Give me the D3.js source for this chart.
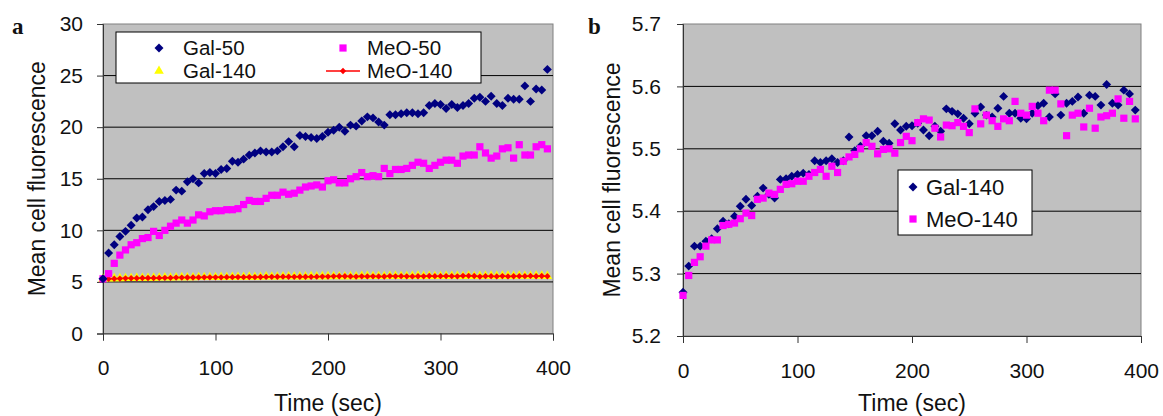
<!DOCTYPE html>
<html>
<head>
<meta charset="utf-8">
<script src="https://cdn.jsdelivr.net/npm/d3@7"></script>
<style>
  body { margin: 0; background: #fff; }
  svg text { font-family: "Liberation Sans", Arial, sans-serif; fill: #111; }
  .panel-letter { font-family: "Liberation Serif", "Times New Roman", serif; font-weight: bold; }
</style>
</head>
<body>
<div class="container"></div>
<script>
// Time points (sec), same for every series
const times = [0, 5, 10, 15, 20, 25, 30, 35, 40, 45, 50, 55, 60, 65, 70, 75, 80, 85, 90, 95,
  100, 105, 110, 115, 120, 125, 130, 135, 140, 145, 150, 155, 160, 165, 170, 175, 180, 185, 190, 195,
  200, 205, 210, 215, 220, 225, 230, 235, 240, 245, 250, 255, 260, 265, 270, 275, 280, 285, 290, 295,
  300, 305, 310, 315, 320, 325, 330, 335, 340, 345, 350, 355, 360, 365, 370, 375, 380, 385, 390, 395];

// Panel a series
const gal50 = [5.3, 7.8, 8.6, 9.4, 9.9, 10.5, 11.2, 11.3, 12.0, 12.3,
  12.8, 12.9, 13.0, 13.9, 13.8, 14.7, 15.0, 14.6, 15.5, 15.6,
  15.5, 15.9, 16.0, 16.7, 16.6, 16.9, 17.3, 17.5, 17.7, 17.6,
  17.6, 17.7, 18.1, 18.6, 18.1, 19.2, 19.1, 19.0, 18.9, 19.1,
  19.5, 19.7, 20.0, 19.6, 20.2, 20.1, 20.6, 21.0, 20.9, 20.5,
  20.2, 21.2, 21.2, 21.3, 21.4, 21.4, 21.3, 21.4, 22.1, 22.3,
  22.2, 21.8, 22.2, 21.9, 22.1, 22.3, 22.8, 22.9, 22.5, 23.0,
  22.3, 22.1, 22.8, 22.7, 22.7, 24.0, 22.5, 23.7, 23.6, 25.6];

const meo50 = [5.3, 5.8, 6.8, 7.6, 8.1, 8.6, 8.8, 9.2, 9.3, 9.9,
  9.5, 10.0, 10.4, 10.7, 11.0, 10.7, 11.0, 11.5, 11.4, 11.8,
  11.9, 11.9, 12.0, 12.0, 12.1, 12.5, 12.9, 12.8, 12.8, 13.1,
  13.4, 13.4, 13.7, 13.5, 13.6, 13.9, 14.2, 14.3, 14.4, 14.2,
  14.8, 14.9, 14.6, 14.6, 15.0, 15.2, 15.6, 15.2, 15.3, 15.2,
  16.0, 15.5, 15.9, 15.9, 16.0, 16.3, 16.6, 16.5, 16.0, 16.3,
  16.6, 16.8, 16.8, 16.5, 17.2, 17.3, 17.3, 18.1, 17.5, 17.0,
  17.2, 17.9, 18.0, 17.0, 18.3, 17.3, 17.3, 18.1, 18.3, 17.9];

// 140 series (shown in both panels)
const gal140 = [5.27, 5.312, 5.344, 5.344, 5.352, 5.356, 5.372, 5.384, 5.380, 5.392,
  5.408, 5.419, 5.409, 5.424, 5.437, 5.427, 5.421, 5.451, 5.452, 5.456,
  5.459, 5.461, 5.459, 5.481, 5.478, 5.481, 5.484, 5.478, 5.481, 5.519,
  5.497, 5.504, 5.521, 5.521, 5.528, 5.512, 5.509, 5.540, 5.530, 5.536,
  5.537, 5.541, 5.530, 5.521, 5.536, 5.528, 5.564, 5.560, 5.556, 5.549,
  5.540, 5.557, 5.567, 5.554, 5.551, 5.565, 5.584, 5.557, 5.557, 5.549,
  5.548, 5.557, 5.569, 5.573, 5.551, 5.588, 5.554, 5.573, 5.576, 5.583,
  5.557, 5.586, 5.584, 5.570, 5.603, 5.573, 5.570, 5.594, 5.588, 5.562];

const meo140 = [5.265, 5.297, 5.318, 5.327, 5.344, 5.354, 5.354, 5.377, 5.379, 5.381,
  5.388, 5.397, 5.393, 5.419, 5.421, 5.429, 5.427, 5.435, 5.443, 5.444,
  5.448, 5.448, 5.456, 5.462, 5.467, 5.456, 5.472, 5.462, 5.480, 5.487,
  5.491, 5.500, 5.510, 5.504, 5.492, 5.499, 5.500, 5.493, 5.510, 5.520,
  5.513, 5.542, 5.548, 5.546, 5.533, 5.519, 5.538, 5.537, 5.542, 5.536,
  5.526, 5.564, 5.540, 5.554, 5.545, 5.536, 5.548, 5.545, 5.576, 5.557,
  5.554, 5.568, 5.557, 5.545, 5.594, 5.594, 5.572, 5.521, 5.554, 5.557,
  5.535, 5.565, 5.533, 5.551, 5.553, 5.557, 5.580, 5.549, 5.576, 5.548];

// Tick labels
const xTicks = [0, 100, 200, 300, 400];
const yTicksA = [0, 5, 10, 15, 20, 25, 30];
const yTicksB = [5.2, 5.3, 5.4, 5.5, 5.6, 5.7];

const width = 1163;
const height = 416;

const svg = d3.select('.container')
  .append('svg')
  .attr('width', width)
  .attr('height', height);

// Marker shapes, Excel style
const diamond = d3.symbol(d3.symbolSquare, 40);
const square = d3.symbol(d3.symbolSquare, 52);
const triangle = d3.symbol(d3.symbolTriangle, 40);
const smallDiamond = d3.symbol(d3.symbolSquare, 20);

function shapeFor(kind) {
  return kind === 'square' ? square : kind === 'triangle' ? triangle :
    kind === 'small' ? smallDiamond : diamond;
}

function drawMarkers(g, xs, ys, values, kind, color) {
  g.append('g')
    .selectAll('path')
    .data(values)
    .enter()
    .append('path')
    .attr('d', shapeFor(kind))
    .attr('transform', (d, i) => 'translate(' + xs(times[i]) + ',' + ys(d) + ')' +
      (kind === 'diamond' || kind === 'small' ? ' rotate(45)' : ''))
    .attr('fill', color);
}

// Draws the frame: grey plot area, grid, axes, tick labels, titles
function drawFrame(x0, x1, y0, y1, yDomain, yTicks, fmt, yPad, letter, letterX, ylabelX) {
  const xs = d3.scaleLinear().domain([0, 400]).range([x0, x1]);
  const ys = d3.scaleLinear().domain(yDomain).range([y1, y0]);

  svg.append('rect')
    .attr('x', x0).attr('y', y0)
    .attr('width', x1 - x0).attr('height', y1 - y0)
    .attr('fill', '#c0c0c0')
    .attr('stroke', '#808080');

  // gridlines
  svg.append('g')
    .selectAll('line')
    .data(yTicks.slice(1, -1))
    .enter()
    .append('line')
    .attr('x1', x0).attr('x2', x1)
    .attr('y1', d => ys(d)).attr('y2', d => ys(d))
    .attr('stroke', '#000')
    .attr('stroke-width', 1);

  const yAxis = d3.axisLeft(ys).tickValues(yTicks).tickSize(6).tickPadding(yPad)
    .tickFormat(fmt);
  svg.append('g')
    .attr('transform', 'translate(' + x0 + ',0)')
    .call(yAxis)
    .call(g => g.selectAll('path, line').attr('stroke', '#333'))
    .call(g => g.selectAll('text').attr('font-size', 21).attr('font-family', null).attr('fill', '#111'));

  const xAxis = d3.axisBottom(xs).tickValues(xTicks).tickSize(7).tickPadding(20)
    .tickFormat(d3.format('d'));
  svg.append('g')
    .attr('transform', 'translate(0,' + y1 + ')')
    .call(xAxis)
    .call(g => g.selectAll('path, line').attr('stroke', '#333'))
    .call(g => g.selectAll('text').attr('font-size', 21).attr('font-family', null).attr('fill', '#111'));

  svg.append('text')
    .text('Mean cell fluorescence')
    .attr('transform', 'translate(' + ylabelX + ',' + (y0 + y1) / 2 + ') rotate(-90)')
    .attr('text-anchor', 'middle')
    .attr('font-size', 23);

  svg.append('text')
    .text('Time (sec)')
    .attr('x', (x0 + x1) / 2)
    .attr('y', 411)
    .attr('text-anchor', 'middle')
    .attr('font-size', 23);

  svg.append('text')
    .text(letter)
    .attr('class', 'panel-letter')
    .attr('x', letterX)
    .attr('y', 34)
    .attr('font-size', 23);

  return { xs, ys };
}

// ---- Panel a ----
const a = drawFrame(103, 553, 24, 333.5, [0, 30], yTicksA, d3.format('d'), 14, 'a', 12, 45);
const gA = svg.append('g');

drawMarkers(gA, a.xs, a.ys, gal140, 'triangle', '#ffff00');
gA.append('path')
  .datum(meo140)
  .attr('d', d3.line().x((d, i) => a.xs(times[i])).y(d => a.ys(d)))
  .attr('fill', 'none')
  .attr('stroke', '#ff0000')
  .attr('stroke-width', 1.5);
drawMarkers(gA, a.xs, a.ys, meo140, 'small', '#ff0000');
drawMarkers(gA, a.xs, a.ys, meo50, 'square', '#ff00ff');
drawMarkers(gA, a.xs, a.ys, gal50, 'diamond', '#000080');

// legend a
const legA = svg.append('g');
legA.append('rect')
  .attr('x', 116).attr('y', 32).attr('width', 365).attr('height', 51)
  .attr('fill', '#fff').attr('stroke', '#000');
const legItemsA = [
  { name: 'Gal-50', kind: 'diamond', color: '#000080', mx: 159, my: 48 },
  { name: 'Gal-140', kind: 'triangle', color: '#ffff00', mx: 159, my: 71 },
  { name: 'MeO-50', kind: 'square', color: '#ff00ff', mx: 343, my: 48 },
  { name: 'MeO-140', kind: 'small', color: '#ff0000', mx: 343, my: 71 }
];
legItemsA.forEach(item => {
  if (item.kind === 'small') {
    legA.append('line')
      .attr('x1', item.mx - 17).attr('x2', item.mx + 17)
      .attr('y1', item.my).attr('y2', item.my)
      .attr('stroke', item.color).attr('stroke-width', 1.5);
  }
  legA.append('path')
    .attr('d', shapeFor(item.kind))
    .attr('transform', 'translate(' + item.mx + ',' + item.my + ')' +
      (item.kind === 'diamond' || item.kind === 'small' ? ' rotate(45)' : ''))
    .attr('fill', item.color);
  legA.append('text')
    .text(item.name)
    .attr('x', item.mx + 24)
    .attr('y', item.my + 7)
    .attr('font-size', 20.5);
});

// ---- Panel b ----
const b = drawFrame(683, 1141, 24, 336, [5.2, 5.7], yTicksB, d3.format('.1f'), 16, 'b', 588, 620);
const gB = svg.append('g');
drawMarkers(gB, b.xs, b.ys, gal140, 'diamond', '#000080');
drawMarkers(gB, b.xs, b.ys, meo140, 'square', '#ff00ff');

// legend b
const legB = svg.append('g');
legB.append('rect')
  .attr('x', 898).attr('y', 170).attr('width', 134).attr('height', 65)
  .attr('fill', '#fff').attr('stroke', '#000');
[
  { name: 'Gal-140', kind: 'diamond', color: '#000080', my: 187 },
  { name: 'MeO-140', kind: 'square', color: '#ff00ff', my: 219 }
].forEach(item => {
  legB.append('path')
    .attr('d', shapeFor(item.kind))
    .attr('transform', 'translate(913,' + item.my + ')' + (item.kind === 'diamond' ? ' rotate(45)' : ''))
    .attr('fill', item.color);
  legB.append('text')
    .text(item.name)
    .attr('x', 926)
    .attr('y', item.my + 7.5)
    .attr('font-size', 22);
});
</script>
</body>
</html>
